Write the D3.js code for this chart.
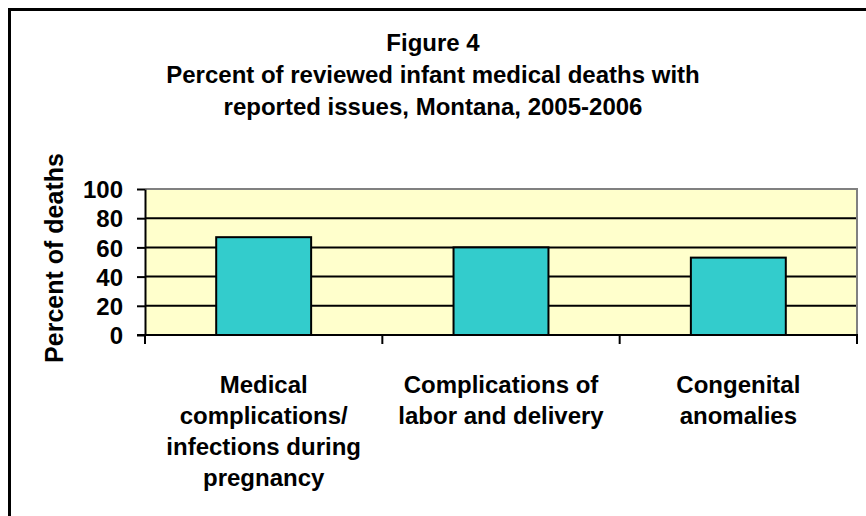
<!DOCTYPE html>
<html>
<head>
  <meta charset="utf-8">
  <script src="https://cdn.jsdelivr.net/npm/d3@7/dist/d3.min.js"></script>
  <style>
    body { margin: 0; background: #fff; }
    text { font-family: "Liberation Sans", Arial, sans-serif; font-weight: bold; fill: #000; }
  </style>
</head>
<body>
  <svg id="chart" width="866" height="516"></svg>

  <script>
    var categories = [
      ['Medical', 'complications/', 'infections during', 'pregnancy'],
      ['Complications of', 'labor and delivery'],
      ['Congenital', 'anomalies']
    ];
    var values = [67, 60, 53];
    var yTicks = [0, 20, 40, 60, 80, 100];
    var titleLines = ['Figure 4', 'Percent of reviewed infant medical deaths with', 'reported issues, Montana, 2005-2006'];

    var svg = d3.select('#chart'),
      width = +svg.attr('width'),
      height = +svg.attr('height');

    var plot = { left: 145, right: 857, top: 189, bottom: 335 };

    // outer frame (runs off the right and bottom edge)
    svg.append('rect')
      .attr('x', 9.5).attr('y', 9.5)
      .attr('width', width + 20).attr('height', height + 20)
      .attr('fill', 'none')
      .attr('stroke', '#000')
      .attr('stroke-width', 3);

    // title
    svg.append('g').selectAll('text')
      .data(titleLines)
      .enter()
      .append('text')
      .attr('x', 433)
      .attr('y', (d, i) => 51 + i * 32)
      .attr('text-anchor', 'middle')
      .attr('font-size', 24)
      .text(d => d);

    var x = d3.scaleBand()
      .domain(d3.range(categories.length))
      .range([plot.left, plot.right])
      .paddingInner(0.6)
      .paddingOuter(0.3);

    var y = d3.scaleLinear()
      .domain([0, 100])
      .range([plot.bottom, plot.top]);

    // plot background
    svg.append('rect')
      .attr('x', plot.left).attr('y', plot.top)
      .attr('width', plot.right - plot.left)
      .attr('height', plot.bottom - plot.top)
      .attr('fill', '#ffffcc');

    // gray border top + right
    svg.append('path')
      .attr('d', `M${plot.left},${plot.top}H${plot.right}V${plot.bottom}`)
      .attr('fill', 'none')
      .attr('stroke', '#808080')
      .attr('stroke-width', 2);

    // gridlines
    svg.append('g').selectAll('line')
      .data(yTicks.filter(d => d > 0 && d < 100))
      .enter()
      .append('line')
      .attr('x1', plot.left).attr('x2', plot.right - 1)
      .attr('y1', d => y(d)).attr('y2', d => y(d))
      .attr('stroke', '#000')
      .attr('stroke-width', 2);

    // bars
    svg.append('g').selectAll('rect')
      .data(values)
      .enter()
      .append('rect')
      .attr('x', (d, i) => x(i))
      .attr('y', d => y(d))
      .attr('width', x.bandwidth())
      .attr('height', d => y(0) - y(d))
      .attr('fill', '#33cccc')
      .attr('stroke', '#000')
      .attr('stroke-width', 2);

    // y axis
    var yAxis = d3.axisLeft(y)
      .tickValues(yTicks)
      .tickSizeInner(8)
      .tickSizeOuter(0)
      .tickPadding(14);

    var gy = svg.append('g')
      .attr('transform', `translate(${plot.left},0)`)
      .call(yAxis);
    gy.attr('font-size', null).attr('font-family', null);
    gy.select('.domain').attr('stroke', '#000').attr('stroke-width', 2);
    gy.selectAll('.tick line').attr('stroke', '#000').attr('stroke-width', 2);
    gy.selectAll('.tick text')
      .attr('font-size', 24)
      .attr('dy', '0.36em');

    // x axis line and ticks at category boundaries
    var bounds = d3.range(categories.length + 1).map(i => plot.left + i * (plot.right - plot.left) / categories.length);

    svg.append('line')
      .attr('x1', plot.left - 8).attr('x2', plot.right + 1)
      .attr('y1', plot.bottom).attr('y2', plot.bottom)
      .attr('stroke', '#000')
      .attr('stroke-width', 2);

    svg.append('g').selectAll('line')
      .data(bounds)
      .enter()
      .append('line')
      .attr('x1', d => d).attr('x2', d => d)
      .attr('y1', plot.bottom).attr('y2', plot.bottom + 9)
      .attr('stroke', '#000')
      .attr('stroke-width', 2);

    // category labels
    var labels = svg.append('g').selectAll('text')
      .data(categories)
      .enter()
      .append('text')
      .attr('text-anchor', 'middle')
      .attr('font-size', 24);

    labels.selectAll('tspan')
      .data((d, i) => d.map(t => ({ t: t, cx: x(i) + x.bandwidth() / 2 })))
      .enter()
      .append('tspan')
      .attr('x', d => d.cx)
      .attr('y', (d, j) => 393 + j * 31)
      .text(d => d.t);

    // y axis title
    svg.append('text')
      .attr('transform', 'translate(63,258) rotate(-90)')
      .attr('text-anchor', 'middle')
      .attr('font-size', 25)
      .text('Percent of deaths');
  </script>
</body>
</html>
